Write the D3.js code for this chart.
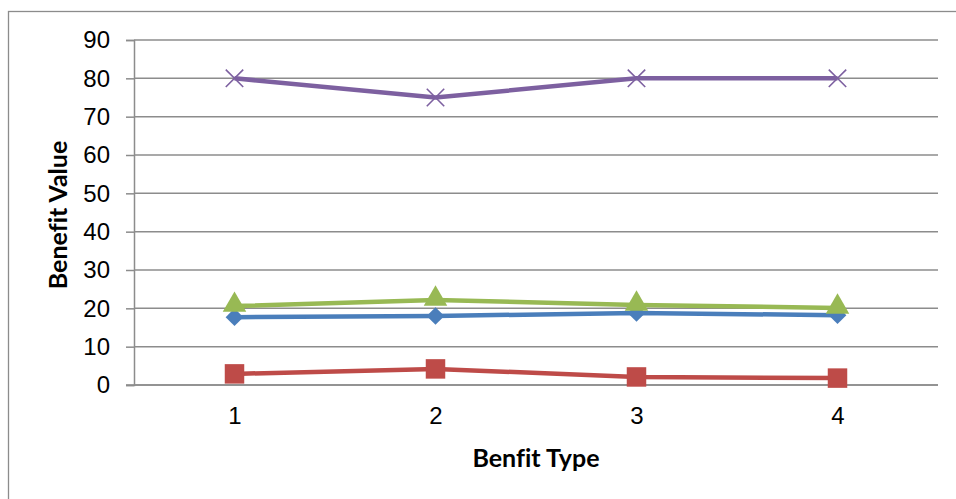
<!DOCTYPE html>
<html>
<head>
<meta charset="utf-8">
<script src="https://cdn.jsdelivr.net/npm/d3@7"></script>
<style>
  html, body { margin: 0; padding: 0; background: #fff; }
  svg { display: block; }
  .axis-title { font-variant-ligatures: none; font-feature-settings: "liga" 0; }
</style>
</head>
<body>
<svg id="chart" width="956" height="499"></svg>
<script>
// Benefit values per benefit type, one array per series
const categories = ["1", "2", "3", "4"];
const seriesBlue   = [17.7, 18.0, 18.8, 18.2];
const seriesRed    = [2.9, 4.2, 2.1, 1.8];
const seriesGreen  = [20.6, 22.2, 20.9, 20.1];
const seriesPurple = [80, 75, 80, 80];
const yTicks = [0, 10, 20, 30, 40, 50, 60, 70, 80, 90];

const series = [
  { values: seriesBlue,   color: "#4a7ebb", marker: "diamond" },
  { values: seriesRed,    color: "#be4b48", marker: "square" },
  { values: seriesGreen,  color: "#98b954", marker: "triangle" },
  { values: seriesPurple, color: "#7d60a0", marker: "cross" }
];

const svg = d3.select("#chart");
const plot = { left: 134, right: 938, top: 40, bottom: 385 };
const gridColor = "#8c8c8c";

// outer chart border (continues past the right and bottom edges)
svg.append("rect")
  .attr("x", 8.5).attr("y", 11.5)
  .attr("width", 1000).attr("height", 600)
  .attr("fill", "none").attr("stroke", gridColor).attr("stroke-width", 1.3);

const x = d3.scalePoint().domain(categories)
  .range([plot.left, plot.right]).padding(0.5);
const y = d3.scaleLinear().domain([0, 90]).range([plot.bottom, plot.top]);

// horizontal gridlines + y axis
const yAxis = d3.axisLeft(y).tickValues(yTicks).tickSize(8).tickPadding(16);
const gy = svg.append("g").attr("transform", `translate(${plot.left},0)`).call(yAxis);
gy.select(".domain").attr("stroke", gridColor).attr("stroke-width", 1.5);
gy.selectAll(".tick line").attr("stroke", gridColor).attr("stroke-width", 1.5);
gy.selectAll(".tick text")
  .attr("fill", "#000")
  .style("font-family", "'Liberation Sans', Arial, sans-serif")
  .style("font-size", "24px");

svg.append("g").selectAll("line").data(yTicks).join("line")
  .attr("x1", plot.left).attr("x2", plot.right)
  .attr("y1", d => y(d)).attr("y2", d => y(d))
  .attr("stroke", gridColor).attr("stroke-width", 1.5);

// x axis (no tick marks, labels only)
const xAxis = d3.axisBottom(x).tickSize(0).tickPadding(22);
const gx = svg.append("g").attr("transform", `translate(0,${plot.bottom})`).call(xAxis);
gx.select(".domain").remove();
gx.selectAll(".tick text")
  .attr("fill", "#000")
  .style("font-family", "'Liberation Sans', Arial, sans-serif")
  .style("font-size", "24px");
svg.append("line")
  .attr("x1", plot.left - 8).attr("x2", plot.right)
  .attr("y1", plot.bottom).attr("y2", plot.bottom)
  .attr("stroke", gridColor).attr("stroke-width", 1.5);

// series lines
const line = d3.line().x((d, i) => x(categories[i])).y(d => y(d));
series.forEach(s => {
  svg.append("path")
    .datum(s.values)
    .attr("d", line)
    .attr("fill", "none")
    .attr("stroke", s.color)
    .attr("stroke-width", 4.5)
    .attr("stroke-linejoin", "round");
});

// markers
const symbolFor = {
  diamond: d3.symbol().type(d3.symbolDiamond2).size(200),
  square: d3.symbol().type(d3.symbolSquare).size(380),
  triangle: d3.symbol().type(d3.symbolTriangle).size(240),
  cross: d3.symbol().type(d3.symbolX).size(200)
};
series.forEach(s => {
  const g = svg.append("g");
  g.selectAll("path").data(s.values).join("path")
    .attr("transform", (d, i) => {
      const dy = s.marker === "triangle" ? -1 : 0;
      return `translate(${x(categories[i])},${y(d) + dy})`;
    })
    .attr("d", symbolFor[s.marker])
    .attr("fill", s.marker === "cross" ? "none" : s.color)
    .attr("stroke", s.color)
    .attr("stroke-width", s.marker === "cross" ? 1.6 : 0);
});

// axis titles
svg.append("text")
  .attr("class", "axis-title")
  .attr("x", (plot.left + plot.right) / 2)
  .attr("y", 467)
  .attr("text-anchor", "middle")
  .style("font-family", "Lato, 'Open Sans', sans-serif")
  .style("font-weight", "bold")
  .style("font-size", "25px")
  .text("Benfit Type");

svg.append("text")
  .attr("class", "axis-title")
  .attr("transform", `translate(67,215) rotate(-90)`)
  .attr("text-anchor", "middle")
  .style("font-family", "Lato, 'Open Sans', sans-serif")
  .style("font-weight", "bold")
  .style("font-size", "25px")
  .text("Benefit Value");
</script>
</body>
</html>
